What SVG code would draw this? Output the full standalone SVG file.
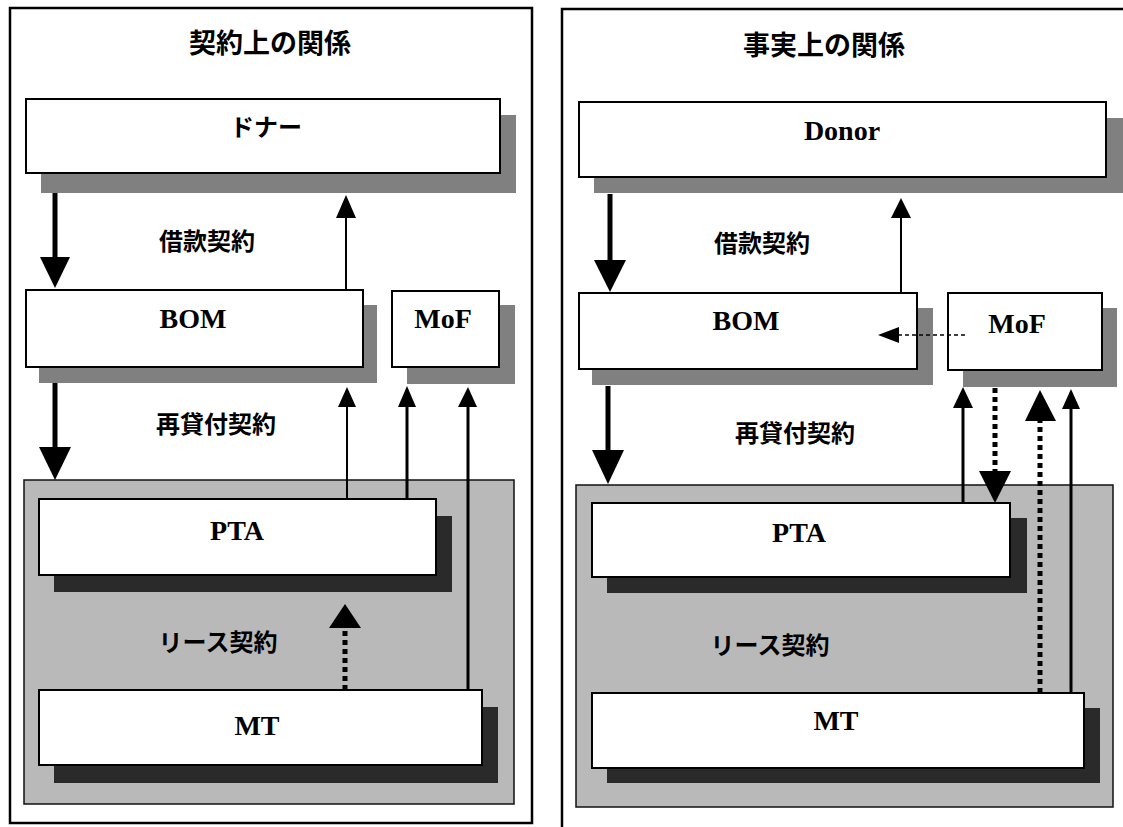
<svg xmlns="http://www.w3.org/2000/svg" width="1123" height="827" viewBox="0 0 1123 827">
<style>
.frame{fill:none;stroke:#000;stroke-width:2.5}
.zone{fill:#b9b9b9;stroke:#111;stroke-width:1.5}
.box{fill:#fff;stroke:#000;stroke-width:2}
.sh1{fill:#808080}
.sh2{fill:#2a2a2a}
.jp{font-family:"Liberation Serif","Noto Sans CJK JP",serif;font-weight:bold;fill:#000;text-anchor:middle}
.en{font-family:"Liberation Serif",serif;font-weight:bold;font-size:28px;fill:#000;text-anchor:middle}
.title{font-size:27px}
.lab{font-size:24px}
.thick{stroke:#000;stroke-width:5;fill:none}
.thin{stroke:#000;stroke-width:2;fill:none}
.mid{stroke:#000;stroke-width:3;fill:none}
.dots{stroke:#000;stroke-width:5;fill:none;stroke-dasharray:5 4}
.dash{stroke:#000;stroke-width:1.5;fill:none;stroke-dasharray:4 3}
.head{fill:#000}
</style>
<rect width="1123" height="827" fill="#fff"/>
<g id="panel-left">
<rect class="frame" x="10" y="8" width="522" height="815"/>
<text class="jp title" x="270" y="53">契約上の関係</text>
<rect class="zone" x="24" y="480" width="490" height="324"/>
</g>
<g id="panel-right">
<path class="frame" d="M1123,9 H562 V827"/>
<text class="jp title" x="824" y="55">事実上の関係</text>
<rect class="zone" x="576" y="485" width="537" height="322"/>
</g>
<g id="left-donor">
<rect class="sh1" x="41" y="115" width="475" height="78"/>
<rect class="box" x="26" y="99" width="474" height="74"/>
<text class="jp lab" x="266" y="136">ドナー</text>
</g>
<g id="left-bom">
<rect class="sh1" x="39" y="305" width="338" height="78"/>
<rect class="box" x="26" y="290" width="337" height="77"/>
<text class="en" x="193" y="328">BOM</text>
</g>
<g id="left-mof">
<rect class="sh1" x="407" y="305" width="108" height="79"/>
<rect class="box" x="392" y="291" width="107" height="76"/>
<text class="en" x="443" y="328">MoF</text>
</g>
<g id="left-pta">
<rect class="sh2" x="54" y="516" width="398" height="76"/>
<rect class="box" x="39" y="499" width="397" height="76"/>
<text class="en" x="237" y="540">PTA</text>
</g>
<g id="left-mt">
<rect class="sh2" x="54" y="707" width="444" height="76"/>
<rect class="box" x="39" y="690" width="443" height="75"/>
<text class="en" x="257" y="735">MT</text>
</g>
<g id="right-donor">
<rect class="sh1" x="594" y="118" width="529" height="75"/>
<rect class="box" x="579" y="102" width="527" height="75"/>
<text class="en" x="842" y="140">Donor</text>
</g>
<g id="right-bom">
<rect class="sh1" x="592" y="308" width="341" height="77"/>
<rect class="box" x="579" y="293" width="338" height="76"/>
<text class="en" x="746" y="330">BOM</text>
</g>
<g id="right-mof">
<rect class="sh1" x="963" y="308" width="154" height="79"/>
<rect class="box" x="948" y="293" width="154" height="77"/>
<text class="en" x="1017" y="333">MoF</text>
</g>
<g id="right-pta">
<rect class="sh2" x="607" y="518" width="420" height="75"/>
<rect class="box" x="592" y="503" width="418" height="74"/>
<text class="en" x="799" y="542">PTA</text>
</g>
<g id="right-mt">
<rect class="sh2" x="607" y="708" width="493" height="75"/>
<rect class="box" x="592" y="693" width="492" height="75"/>
<text class="en" x="836" y="730">MT</text>
</g>
<g id="connectors">
<line class="thick" x1="55" y1="193" x2="55" y2="258"/>
<polygon class="head" points="40,257 70,257 55,288"/>
<line class="thin" x1="346" y1="290" x2="346" y2="216"/>
<polygon class="head" points="336,218 356,218 346,195"/>
<line class="thick" x1="55" y1="383" x2="55" y2="448"/>
<polygon class="head" points="39,447 71,447 55,480"/>
<line class="thin" x1="347" y1="499" x2="347" y2="405"/>
<polygon class="head" points="338,407 356,407 347,387"/>
<line class="mid" x1="407" y1="499" x2="407" y2="405"/>
<polygon class="head" points="398,407 416,407 407,386"/>
<line class="mid" x1="468" y1="690" x2="468" y2="405"/>
<polygon class="head" points="458,407 477,407 468,387"/>
<line class="dots" x1="345" y1="690" x2="345" y2="627"/>
<polygon class="head" points="329,628 361,628 345,604"/>
<line class="thick" x1="610" y1="194" x2="610" y2="261"/>
<polygon class="head" points="594,260 626,260 610,292"/>
<line class="thin" x1="901" y1="293" x2="901" y2="216"/>
<polygon class="head" points="891,218 911,218 901,198"/>
<line class="thick" x1="608" y1="386" x2="608" y2="451"/>
<polygon class="head" points="592,450 624,450 608,484"/>
<line class="dash" x1="965" y1="335" x2="898" y2="335"/>
<polygon class="head" points="878,335 899,327 899,343"/>
<line class="mid" x1="963" y1="503" x2="963" y2="406"/>
<polygon class="head" points="953,408 973,408 963,387"/>
<line class="dots" x1="995" y1="388" x2="995" y2="472"/>
<polygon class="head" points="979,471 1011,471 995,503"/>
<line class="dots" x1="1040" y1="693" x2="1040" y2="420"/>
<polygon class="head" points="1025,421 1056,421 1040,390"/>
<line class="mid" x1="1071" y1="693" x2="1071" y2="407"/>
<polygon class="head" points="1062,409 1080,409 1071,389"/>
</g>
<g id="labels">
<text class="jp lab" x="207" y="250">借款契約</text>
<text class="jp lab" x="762" y="252">借款契約</text>
<text class="jp lab" x="216" y="433">再貸付契約</text>
<text class="jp lab" x="795" y="442">再貸付契約</text>
<text class="jp lab" x="218" y="651">リース契約</text>
<text class="jp lab" x="770" y="654">リース契約</text>
</g>
</svg>
